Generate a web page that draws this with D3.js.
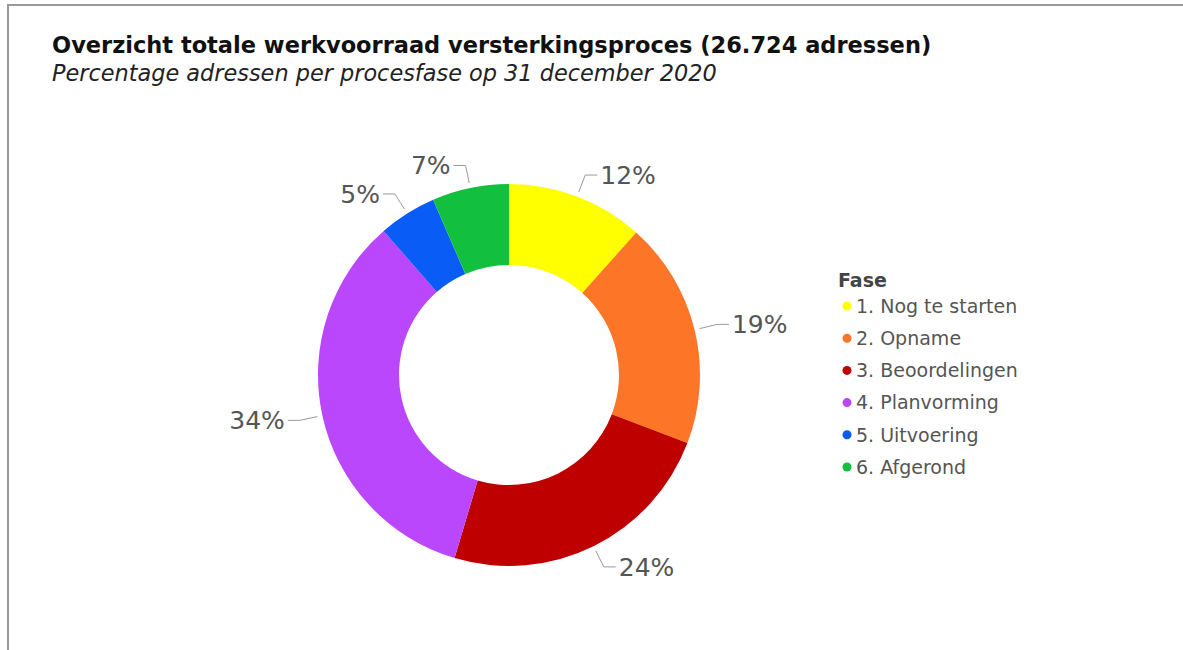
<!DOCTYPE html>
<html lang="nl">
  <head>
    <meta charset="UTF-8" />
    <title>Overzicht totale werkvoorraad versterkingsproces</title>
    <style>
      body {
        margin: 0;
        background: #fff;
        font-family: 'DejaVu Sans', Verdana, sans-serif;
      }
      .label-line {
        fill: none;
        stroke: #999;
        stroke-width: 1;
      }
    </style>
  </head>
  <body>
    <div id="chart"></div>

    <script src="https://d3js.org/d3.v7.min.js"></script>
    <script>
      const phases = [
        '1. Nog te starten',
        '2. Opname',
        '3. Beoordelingen',
        '4. Planvorming',
        '5. Uitvoering',
        '6. Afgerond',
      ];
      const shares = [11.6, 19.2, 23.8, 34.0, 4.9, 6.5];
      const colors = ['#ffff00', '#fd7526', '#bf0000', '#bb47fc', '#0a5cf6', '#12bf3f'];

      const width = 1183;
      const height = 650;
      const cx = 509;
      const cy = 375;
      const outer = 191;
      const inner = 110;

      const svg = d3
        .select('#chart')
        .append('svg')
        .attr('width', width)
        .attr('height', height);

      // frame
      svg
        .append('rect')
        .attr('x', 8)
        .attr('y', 5)
        .attr('width', width + 20)
        .attr('height', height + 20)
        .attr('fill', 'none')
        .attr('stroke', '#999')
        .attr('stroke-width', 2);

      // Title
      svg
        .append('text')
        .attr('x', 52)
        .attr('y', 53)
        .style('font-size', '22.5px')
        .style('font-weight', 'bold')
        .attr('fill', '#111')
        .text('Overzicht totale werkvoorraad versterkingsproces (26.724 adressen)');

      svg
        .append('text')
        .attr('x', 52)
        .attr('y', 81)
        .style('font-size', '22.4px')
        .style('font-style', 'italic')
        .attr('fill', '#222')
        .text('Percentage adressen per procesfase op 31 december 2020');

      const data = phases.map((p, i) => ({ phase: p, value: shares[i], color: colors[i] }));

      const pie = d3.pie().sort(null).value((d) => d.value);
      const arc = d3.arc().innerRadius(inner).outerRadius(outer);
      const arcs = pie(data);

      const g = svg.append('g').attr('transform', `translate(${cx}, ${cy})`);

      g.selectAll('path.slice')
        .data(arcs)
        .enter()
        .append('path')
        .attr('class', 'slice')
        .attr('d', arc)
        .attr('fill', (d) => d.data.color);

      // Labels with leader lines
      const pt = (a, r) => [r * Math.sin(a), -r * Math.cos(a)];

      arcs.forEach((d) => {
        const mid = (d.startAngle + d.endAngle) / 2;
        const right = Math.sin(mid) >= 0;
        const p1 = pt(mid, outer + 5);
        const p2 = pt(mid, outer + 23);
        const p3 = [p2[0] + (right ? 12 : -12), p2[1]];
        g.append('polyline')
          .attr('class', 'label-line')
          .attr('points', [p1, p2, p3].map((p) => p.join(',')).join(' '));
        g.append('text')
          .attr('x', p3[0] + (right ? 3 : -3))
          .attr('y', p3[1])
          .attr('dy', '0.36em')
          .attr('text-anchor', right ? 'start' : 'end')
          .style('font-size', '25px')
          .attr('fill', '#555')
          .text(Math.round(d.data.value) + '%');
      });

      // Legend
      const legend = svg.append('g').attr('transform', 'translate(838, 0)');

      legend
        .append('text')
        .attr('x', 0)
        .attr('y', 287)
        .style('font-size', '19px')
        .style('font-weight', 'bold')
        .attr('fill', '#444')
        .text('Fase');

      const items = legend
        .selectAll('.legend-item')
        .data(data)
        .enter()
        .append('g')
        .attr('class', 'legend-item')
        .attr('transform', (d, i) => `translate(0, ${306 + i * 32.2})`);

      items
        .append('circle')
        .attr('cx', 9)
        .attr('cy', 0)
        .attr('r', 4.5)
        .attr('fill', (d) => d.color);

      items
        .append('text')
        .attr('x', 18)
        .attr('y', 0)
        .attr('dy', '0.36em')
        .style('font-size', '19px')
        .attr('fill', '#555')
        .text((d) => d.phase);
    </script>
  </body>
</html>
